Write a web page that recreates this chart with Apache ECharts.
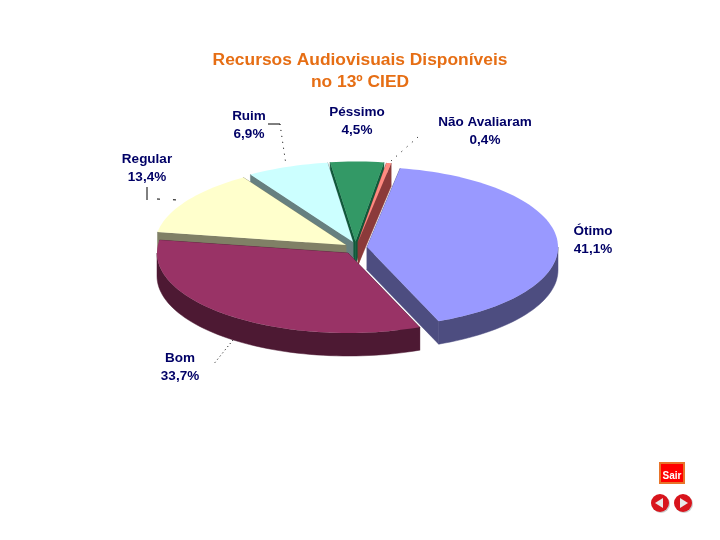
<!DOCTYPE html>
<html>
<head>
<meta charset="utf-8">
<style>
  html, body { margin: 0; padding: 0; background: #fff; }
  #chart { width: 720px; height: 540px; }
</style>
<script src="https://cdn.jsdelivr.net/npm/echarts@6/dist/echarts.min.js"></script>
</head>
<body>
<div id="chart"></div>
<script>
var categories = ['Ótimo', 'Bom', 'Regular', 'Ruim', 'Péssimo', 'Não Avaliaram'];
var values = [41.1, 33.7, 13.4, 6.9, 4.5, 0.4];

// estilo de cada fatia
var topColors = ['#9999FF', '#993366', '#FFFFCC', '#CCFFFF', '#339966', '#FF8A80'];
var wallColors = ['#4D4D80', '#4D1933', '#808066', '#668080', '#0F5A3A', '#8B3A3A'];
var drawOrder = [4, 5, 3, 2, 0, 1]; // de tras para frente

// deslocamento de cada fatia a partir do centro da pizza
var explodeX = [13, -6, -8, -1, 1.5, 4];
var explodeY = [2, 8, 0, -3, -3.5, -3];
var labelX = [593, 180, 147, 249, 357, 485];
var labelY = [240, 367, 168, 125, 121, 131];

var leaderLines = [
  { shape: [[268, 124], [280, 124]], dash: null },
  { shape: [[280, 124], [286, 165]], dash: [1, 5] },
  { shape: [[147, 187], [147, 200]], dash: null },
  { shape: [[157, 199], [178, 200]], dash: [3, 13] },
  { shape: [[391, 161], [418, 137]], dash: [1, 6] },
  { shape: [[233, 340], [213, 365]], dash: [1, 3] }
];

var centerX = 354, centerY = 245, radiusX = 191, radiusY = 80, depth = 23;
var startAngle = 10;

function pointAt(cx, cy, deg) {
  var a = deg * Math.PI / 180;
  return [cx + radiusX * Math.sin(a), cy - radiusY * Math.cos(a)];
}

function arcPoints(cx, cy, a0, a1) {
  var pts = [];
  var steps = Math.max(2, Math.ceil((a1 - a0) / 2));
  for (var i = 0; i <= steps; i++) {
    pts.push(pointAt(cx, cy, a0 + (a1 - a0) * i / steps));
  }
  return pts;
}

function down(p) {
  return [p[0], p[1] + depth];
}

var total = values.reduce(function (s, v) { return s + v; }, 0);
var sliceStart = [];
values.reduce(function (acc, v, i) {
  sliceStart[i] = acc;
  return acc + v / total * 360;
}, startAngle);

function renderSlice(params, api) {
  var i = api.value(0);
  var value = api.value(1);
  var a0 = sliceStart[i];
  var a1 = a0 + value / total * 360;
  var cx = centerX + explodeX[i];
  var cy = centerY + explodeY[i];
  var z = params.dataIndex * 10;
  var apex = [cx, cy];
  var wallStyle = { fill: wallColors[i], stroke: wallColors[i], lineWidth: 0.5 };
  var children = [];

  [a0, a1].forEach(function (a) {
    var p = pointAt(cx, cy, a);
    children.push({
      type: 'polygon', z2: z,
      shape: { points: [apex, p, down(p), down(apex)] },
      style: wallStyle
    });
  });

  // parede externa, so a parte da frente
  var f0 = Math.max(a0, 90), f1 = Math.min(a1, 270);
  if (f1 > f0) {
    var front = arcPoints(cx, cy, f0, f1);
    children.push({
      type: 'polygon', z2: z + 1,
      shape: { points: front.concat(front.slice().reverse().map(down)) },
      style: wallStyle
    });
  }

  children.push({
    type: 'polygon', z2: z + 2,
    shape: { points: [apex].concat(arcPoints(cx, cy, a0, a1)) },
    style: { fill: topColors[i] }
  });

  children.push({
    type: 'text', z2: 200,
    style: {
      x: labelX[i], y: labelY[i],
      text: categories[i] + '\n' + value.toFixed(1).replace('.', ',') + '%',
      fill: '#000066',
      font: 'bold 13.5px "Liberation Sans", Arial, sans-serif',
      lineHeight: 18,
      align: 'center',
      verticalAlign: 'middle'
    }
  });

  return { type: 'group', children: children };
}

var graphics = leaderLines.map(function (l) {
  return {
    type: 'polyline', silent: true,
    shape: { points: l.shape },
    style: { stroke: '#000000', lineWidth: 1, fill: null, lineDash: l.dash }
  };
});

// botoes de navegacao
graphics.push(
  { type: 'rect', shape: { x: 660, y: 463, width: 24, height: 20 }, style: { fill: '#FF0000', stroke: '#E8742A', lineWidth: 2 } },
  { type: 'text', style: { x: 672, y: 476, text: 'Sair', fill: '#FFFFFF', font: 'bold 10px "Liberation Sans", Arial, sans-serif', align: 'center', verticalAlign: 'middle' } },
  { type: 'circle', shape: { cx: 661, cy: 504, r: 9 }, style: { fill: '#CCCCCC' } },
  { type: 'circle', shape: { cx: 684, cy: 504, r: 9 }, style: { fill: '#CCCCCC' } },
  { type: 'circle', shape: { cx: 660, cy: 503, r: 9 }, style: { fill: '#D8141C' } },
  { type: 'circle', shape: { cx: 683, cy: 503, r: 9 }, style: { fill: '#D8141C' } },
  { type: 'polygon', shape: { points: [[655, 503], [663, 498], [663, 508]] }, style: { fill: '#E8E8E8' } },
  { type: 'polygon', shape: { points: [[688, 503], [680, 498], [680, 508]] }, style: { fill: '#E8E8E8' } }
);

var chart = echarts.init(document.getElementById('chart'));
chart.setOption({
  animation: false,
  backgroundColor: '#FFFFFF',
  title: {
    text: 'Recursos Audiovisuais Disponíveis\nno 13º CIED',
    left: 355,
    top: 44,
    textAlign: 'center',
    textStyle: {
      color: '#E66E14',
      fontFamily: '"Liberation Sans", Arial, sans-serif',
      fontWeight: 'bold',
      fontSize: 17.4,
      lineHeight: 22
    }
  },
  graphic: graphics,
  series: [{
    type: 'custom',
    coordinateSystem: 'none',
    silent: true,
    renderItem: renderSlice,
    data: drawOrder.map(function (i) { return [i, values[i]]; })
  }]
});
</script>
</body>
</html>
